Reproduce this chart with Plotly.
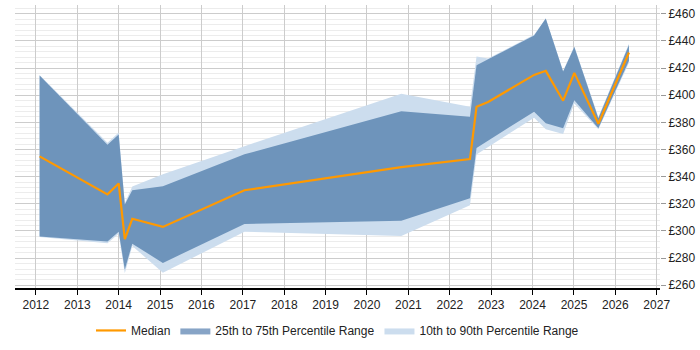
import plotly.graph_objects as go

dates = ["2012-02-03", "2013-09-24", "2014-01-01", "2014-02-24", "2014-05-01",
         "2015-01-26", "2017-01-15", "2020-10-30", "2022-06-28", "2022-08-25",
         "2022-12-05", "2024-01-15", "2024-04-27", "2024-09-27", "2025-01-04",
         "2025-08-04", "2026-05-01"]

median = [355, 327, 335, 294, 309, 303, 330, 347, 353, 391.5,
          395, 415, 418, 396, 416.5, 379, 431.5]
p75 = [414.5, 363.5, 371, 319.5, 330, 333, 356.5, 388.3, 384.2, 422.2,
       426.5, 444, 456.5, 417.5, 435.5, 383, 437]
p25 = [296, 292.2, 299.5, 271.7, 290.6, 276.5, 305.1, 307.5, 324.2, 361.2,
       366.7, 387.9, 379.4, 375.7, 396.3, 375.7, 425.4]
p90 = [415, 365, 372.5, 320.5, 332.7, 341.8, 362.5, 401.2, 391.5, 428.5,
       427, 444.5, 456.5, 418, 436, 384, 438]
p10 = [295.5, 291, 298, 268.8, 289, 269.2, 299.5, 296.3, 318.9, 356.4,
       362, 383.5, 375, 371.4, 393.9, 375, 424]

legend_names = ["Median", "25th to 75th Percentile Range", "10th to 90th Percentile Range"]

ORANGE = "#FF9900"
DARK = "#6E94BB"
DARK_SWATCH = "#87A4C6"
LIGHT = "#CCDDEE"

fig = go.Figure()

# 10-90 band
fig.add_trace(go.Scatter(
    x=dates + dates[::-1], y=p90 + p10[::-1], fill="toself",
    fillcolor=LIGHT, line=dict(width=0), mode="lines",
    showlegend=False, hoverinfo="skip"))
# 25-75 band
fig.add_trace(go.Scatter(
    x=dates + dates[::-1], y=p75 + p25[::-1], fill="toself",
    fillcolor=DARK, line=dict(width=0), mode="lines",
    showlegend=False, hoverinfo="skip"))
# median
fig.add_trace(go.Scatter(
    x=dates, y=median, mode="lines", line=dict(color=ORANGE, width=2.2),
    name=legend_names[0]))
# legend entries for bands
fig.add_trace(go.Scatter(
    x=[None], y=[None], fill="toself", fillcolor=DARK_SWATCH,
    line=dict(width=0), mode="lines", name=legend_names[1]))
fig.add_trace(go.Scatter(
    x=[None], y=[None], fill="toself", fillcolor=LIGHT,
    line=dict(width=0), mode="lines", name=legend_names[2]))

fig.update_layout(
    width=700, height=350,
    margin=dict(l=15, r=40, t=5, b=58),
    paper_bgcolor="white", plot_bgcolor="white",
    font=dict(family="Liberation Sans, Arial, sans-serif", size=12, color="#222"),
    legend=dict(orientation="h", x=0.5, xanchor="center", y=-0.15, yanchor="middle",
                font=dict(size=12, color="#222"), itemwidth=30,
                traceorder="normal"),
    xaxis=dict(
        type="date", range=["2011-07-01", "2027-01-30"],
        tick0="2012-01-01", dtick="M12", tickformat="%Y",
        showgrid=True, gridcolor="#cccccc", gridwidth=1,
        showline=True, linecolor="#000", linewidth=1.5,
        ticks="outside", ticklen=5, tickcolor="#000",
        zeroline=False, fixedrange=True),
    yaxis=dict(
        side="right", range=[258, 466.5], dtick=20, tick0=0,
        tickprefix="£", showgrid=True, gridcolor="#cccccc", gridwidth=1,
        ticks="outside", ticklen=5, tickcolor="#999",
        minor=dict(dtick=4, tick0=0, showgrid=True, gridcolor="#ececec", gridwidth=1),
        zeroline=False, showline=False, fixedrange=True),
)

fig.write_html("out.html")
